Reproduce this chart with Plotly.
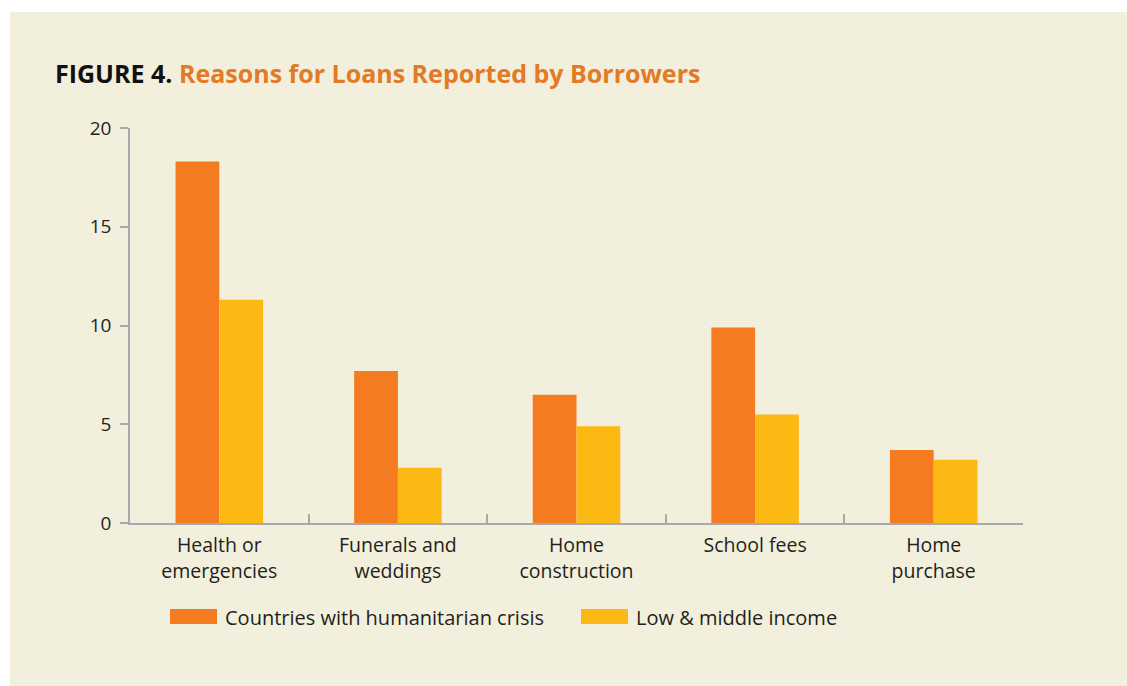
import plotly.graph_objects as go

categories = ["Health or<br>emergencies", "Funerals and<br>weddings", "Home<br>construction",
              "School fees", "Home<br>purchase"]
crisis_values = [18.3, 7.7, 6.5, 9.9, 3.7]
lmi_values = [11.3, 2.8, 4.9, 5.5, 3.2]
series_names = ["Countries with humanitarian crisis", "Low & middle income"]
y_tick_vals = [0, 5, 10, 15, 20]

W, H = 1127, 686
# plot area in screen pixels
L, R, T, B = 130, 1023, 128, 523
BG = "#F2EFDC"
ORANGE = "#F47B20"
YELLOW = "#FDB913"
TXT = "#231F20"
AXIS = "#A7A9AC"
FONT = "Open Sans"


def px(x):
    return (x - L) / (R - L)


def py(y):
    return (B - y) / (B - T)


fig = go.Figure()
fig.add_trace(go.Bar(x=categories, y=crisis_values, name=series_names[0],
                     marker=dict(color=ORANGE, line=dict(width=0)), showlegend=False))
fig.add_trace(go.Bar(x=categories, y=lmi_values, name=series_names[1],
                     marker=dict(color=YELLOW, line=dict(width=0)), showlegend=False))

shapes = [
    dict(type="rect", xref="paper", yref="paper", x0=px(10), x1=px(1300),
         y0=py(800), y1=py(12), fillcolor=BG, line=dict(width=0), layer="below"),
    dict(type="rect", xref="paper", yref="paper", x0=px(170), x1=px(217),
         y0=py(624), y1=py(609), fillcolor=ORANGE, line=dict(width=0)),
    dict(type="rect", xref="paper", yref="paper", x0=px(581), x1=px(628),
         y0=py(624), y1=py(609), fillcolor=YELLOW, line=dict(width=0)),
]
annotations = [
    dict(xref="paper", yref="paper", x=px(223), y=py(617), xanchor="left", yanchor="middle",
         text=series_names[0], showarrow=False, font=dict(family=FONT, size=20, color=TXT)),
    dict(xref="paper", yref="paper", x=px(634), y=py(617), xanchor="left", yanchor="middle",
         text=series_names[1], showarrow=False, font=dict(family=FONT, size=20, color=TXT)),
]

fig.update_layout(
    width=W, height=H,
    margin=dict(l=L, r=W - R, t=T, b=H - B, pad=0),
    paper_bgcolor="white",
    plot_bgcolor="rgba(0,0,0,0)",
    barmode="group", bargap=0.51, bargroupgap=0,
    font=dict(family=FONT, size=19, color=TXT),
    title=dict(
        text="<b>FIGURE 4.</b> <b><span style='color:#E37A26'>Reasons for Loans Reported by Borrowers</span></b>",
        x=55 / W, xref="container", xanchor="left",
        y=1 - 74 / H, yref="container", yanchor="middle",
        font=dict(family=FONT, size=25, color="#111111"),
    ),
    xaxis=dict(
        type="category", range=[-0.5, 4.5],
        showline=True, linecolor=AXIS, linewidth=1.5,
        ticks="inside", tickson="boundaries", ticklen=9, tickcolor=AXIS, tickwidth=1.5,
        showgrid=False, zeroline=False,
        tickfont=dict(family=FONT, size=19.5, color=TXT),
        ticklabelstandoff=4,
    ),
    yaxis=dict(
        range=[0, 20], tickvals=y_tick_vals,
        showline=True, linecolor=AXIS, linewidth=1.5,
        ticks="outside", ticklen=8, tickcolor=AXIS, tickwidth=1.5,
        showgrid=False, zeroline=False,
        tickfont=dict(family=FONT, size=19, color=TXT),
        ticklabelstandoff=5,
    ),
    shapes=shapes,
    annotations=annotations,
    showlegend=False,
)

fig.write_html(
    "out.html",
    config={"displayModeBar": False},
    post_script="document.body.style.margin='0';document.body.style.overflow='hidden';",
)
